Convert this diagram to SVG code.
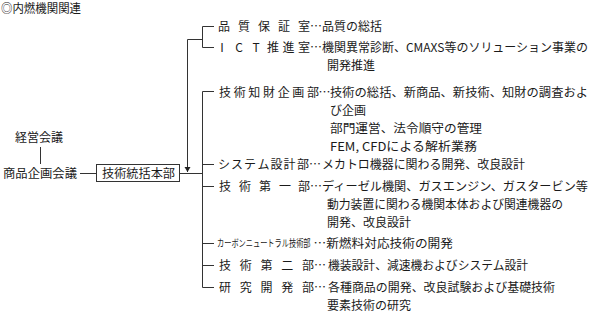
<svg xmlns="http://www.w3.org/2000/svg" width="591" height="313" viewBox="0 0 591 313">
<style>
.t{font-family:"Noto Sans CJK JP","Noto Sans",sans-serif;font-size:12px;fill:#1a1a1a}
.m{text-anchor:middle}
.ln{stroke:#333;stroke-width:1;fill:none}
.bx{stroke:#333;stroke-width:1;fill:#fff}
</style>
<defs>
<marker id="ah" markerWidth="7" markerHeight="7" refX="5" refY="3" orient="auto" markerUnits="userSpaceOnUse">
<path d="M0,0 L5,3 L0,6 z" fill="#222"/>
</marker>
</defs>
<rect width="591" height="313" fill="#fff"/>
<text class="t" x="1" y="13" textLength="80" lengthAdjust="spacingAndGlyphs">◎内燃機関関連</text>

<g id="connectors">
<path class="ln" d="M40.5,147 V164"/>
<path class="ln" d="M80,173.5 H96.5"/>
<path class="ln" d="M179.5,173.5 H202.5"/>
<path class="ln" d="M202.5,39.5 H187.5 V172" marker-end="url(#ah)"/>
<path class="ln" d="M214,26.5 H202.5 V47.5 H214"/>
<path class="ln" d="M214,91.5 H202.5 V287.5 H214"/>
<path class="ln" d="M202.5,164.5 H214 M202.5,186.5 H214 M202.5,243.5 H214 M202.5,265.5 H214"/>
</g>

<g id="keiei"><text class="t" x="15" y="142">経営会議</text></g>
<g id="shohin"><text class="t" x="3" y="177.5" textLength="74" lengthAdjust="spacingAndGlyphs">商品企画会議</text></g>
<g id="honbu">
<rect class="bx" x="96.5" y="164.5" width="83" height="17"/>
<text class="t" x="102" y="177.5" textLength="73" lengthAdjust="spacingAndGlyphs">技術統括本部</text>
</g>

<g id="hinshitsu">
<text class="t m" x="224 244 264 284 304 316" y="30.5">品質保証室…</text>
<text class="t" x="322" y="30.5">品質の総括</text>
</g>
<g id="ict">
<text class="t m" x="222 239 256 273 288.5 304 316" y="51.5">ICT推進室…</text>
<text class="t" x="322" y="51.5" textLength="266" lengthAdjust="spacingAndGlyphs">機関異常診断、CMAXS等のソリューション事業の</text>
<text class="t" x="327" y="69.5">開発推進</text>
</g>
<g id="chizai">
<text class="t m" x="225 239.7 254.3 269 283.7 298.3 313 324.5" y="96.5">技術知財企画部…</text>
<text class="t" x="330" y="96.5" textLength="258" lengthAdjust="spacingAndGlyphs">技術の総括、新商品、新技術、知財の調査およ</text>
<text class="t" x="330" y="114.5">び企画</text>
<text class="t" x="330" y="132.5" textLength="152" lengthAdjust="spacingAndGlyphs">部門運営、法令順守の管理</text>
<text class="t" x="330" y="150.5" textLength="147" lengthAdjust="spacingAndGlyphs">FEM, CFDによる解析業務</text>
</g>
<g id="system">
<text class="t m" x="224 237 250 263.5 276.5 289.5 303 315" y="168.5">システム設計部…</text>
<text class="t" x="322" y="168.5" textLength="203" lengthAdjust="spacingAndGlyphs">メカトロ機器に関わる開発、改良設計</text>
</g>
<g id="gijutsu1">
<text class="t m" x="225 245 265 285 304 316" y="190.5">技術第一部…</text>
<text class="t" x="322" y="190.5" textLength="266" lengthAdjust="spacingAndGlyphs">ディーゼル機関、ガスエンジン、ガスタービン等</text>
<text class="t" x="327" y="208.5" textLength="236" lengthAdjust="spacingAndGlyphs">動力装置に関わる機関本体および関連機器の</text>
<text class="t" x="327" y="226.5">開発、改良設計</text>
</g>
<g id="carbon">
<text class="t" transform="translate(217 246.5) scale(1 1.35)" x="0" y="0" style="font-size:7.2px">カーボンニュートラル技術部</text>
<text class="t" x="313.5" y="247.5" textLength="139.5" lengthAdjust="spacingAndGlyphs">…新燃料対応技術の開発</text>
</g>
<g id="gijutsu2">
<text class="t m" x="225 245.75 266.5 287.25 308 320" y="269.5">技術第二部…</text>
<text class="t" x="328" y="269.5" textLength="200" lengthAdjust="spacingAndGlyphs">機装設計、減速機およびシステム設計</text>
</g>
<g id="kenkyu">
<text class="t m" x="225 245.75 266.5 287.25 308 320" y="291.5">研究開発部…</text>
<text class="t" x="328" y="291.5" textLength="227" lengthAdjust="spacingAndGlyphs">各種商品の開発、改良試験および基礎技術</text>
<text class="t" x="327" y="309.5">要素技術の研究</text>
</g>
</svg>
